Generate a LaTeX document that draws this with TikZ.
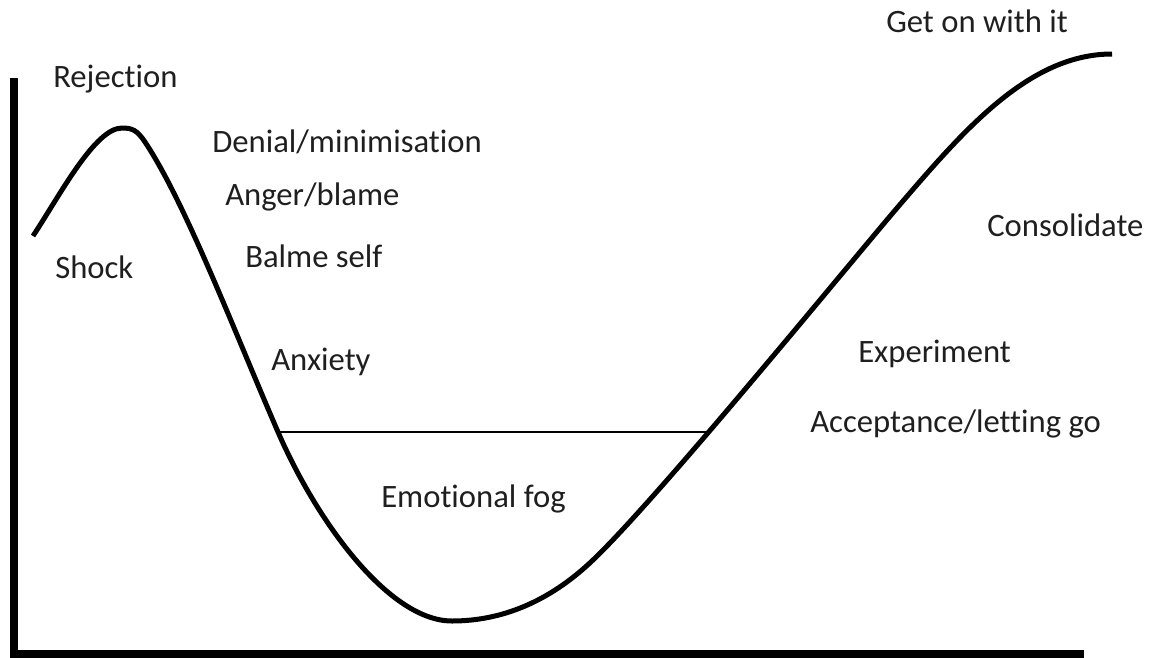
\documentclass[tikz,border=0pt]{standalone}
\usepackage{fontspec}
\setmainfont{Carlito}[Ligatures={NoCommon,NoRare}]
\usepackage{tikz}
\tikzset{stage/.style={anchor=base west,inner sep=0pt,font=\fontsize{24.5}{29}\selectfont,text=black!88}}
\newcommand{\stagelbl}[3]{\node[stage] at (#1) (#2) {#3}}

\begin{document}
\begin{tikzpicture}[x=0.75pt,y=-0.75pt]
		\useasboundingbox (0,0) rectangle (1149,657);
		% axes
		\draw[line width=6pt,line join=miter] (14,78) -- (14,653.5) -- (1084,653.5);
		% change curve
		\draw[line width=3.75pt,line join=round]
			(33,236) .. controls (60,195) and (95,128) .. (122,128)
			.. controls (132,128) and (137,130) .. (145,142)
			.. controls (185,202) and (233,328) .. (278,432)
			.. controls (318,524) and (390,621) .. (452,621)
			.. controls (500,621) and (548,603) .. (593,560)
			.. controls (660,496) and (853,259) .. (903,201)
			.. controls (965,129) and (1030,54) .. (1112,54);
		\coordinate (fogL) at (279,432);
		\coordinate (fogR) at (709,432);
		\draw[line width=1.5pt] (fogL) -- (fogR);
		
		\stagelbl{53,87}{rej}{Rejection};
		\stagelbl{55,278}{shock}{Shock};
		\stagelbl{212,152}{denial}{Denial/minimisation};
		\stagelbl{225,205}{anger}{Anger/blame};
		\stagelbl{245,267}{self}{Balme self};
		\stagelbl{271,370}{anx}{Anxiety};
		\stagelbl{381,507}{fog}{Emotional fog};
		\stagelbl{810,432}{accept}{Acceptance/letting go};
		\stagelbl{858,362}{exper}{Experiment};
		\stagelbl{987,236}{consol}{Consolidate};
		\stagelbl{886,32}{geton}{Get on with it};
	\end{tikzpicture}
\end{document}
